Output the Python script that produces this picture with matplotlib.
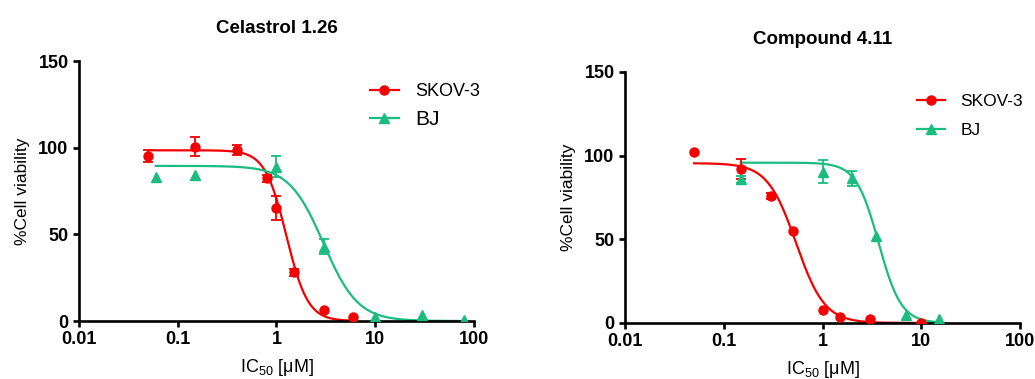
import numpy as np
import matplotlib
matplotlib.use("Agg")
import matplotlib.pyplot as plt

plt.rcParams["font.family"] = ["Liberation Sans", "DejaVu Sans"]
plt.rcParams["mathtext.default"] = "regular"

RED = "#F50000"
GREEN = "#1ABC80"

# ---- Celastrol ----
cel_title = "Celastrol 1.26"
cel_skov_x = [0.05, 0.15, 0.4, 0.8, 1.0, 1.5, 3.0, 6.0]
cel_skov_y = [95.2, 100.6, 98.7, 82.3, 65.4, 28.1, 6.3, 2.1]
cel_skov_err = [3.6, 5.6, 3.0, 2.0, 7.0, 2.0, 0.0, 0.0]
cel_bj_x = [0.06, 0.15, 1.0, 3.0, 10.0, 30.0, 80.0]
cel_bj_y = [83.3, 84.4, 89.0, 42.9, 2.1, 3.5, 0.6]
cel_bj_err = [0.0, 0.0, 6.0, 4.5, 0.0, 0.0, 0.0]
# fitted 4PL parameters: top, bottom, IC50, Hill slope
cel_skov_fit = [98.5, 0.0, 1.26, 4.0]
cel_bj_fit = [89.5, 0.0, 3.0, 2.5]

# ---- Compound 4.11 ----
cmp_title = "Compound 4.11"
cmp_skov_x = [0.05, 0.15, 0.3, 0.5, 1.0, 1.5, 3.0, 10.0]
cmp_skov_y = [102.1, 91.8, 75.9, 55.2, 7.9, 3.4, 2.4, 0.0]
cmp_skov_err = [0.0, 6.0, 2.0, 0.0, 0.0, 0.0, 0.0, 0.0]
cmp_bj_x = [0.15, 1.0, 2.0, 3.5, 7.0, 15.0]
cmp_bj_y = [85.9, 90.4, 86.4, 51.7, 5.0, 2.4]
cmp_bj_err = [2.0, 7.0, 4.5, 0.0, 0.0, 0.0]
cmp_skov_fit = [95.5, 0.0, 0.54, 3.0]
cmp_bj_fit = [95.8, 0.0, 3.7, 3.8]

series_names = ["SKOV-3", "BJ"]
x_ticks = [0.01, 0.1, 1, 10, 100]
x_ticklabels = ["0.01", "0.1", "1", "10", "100"]
y_ticks = [0, 50, 100, 150]


def logistic(x, top, bottom, ic50, hill):
    return bottom + (top - bottom) / (1.0 + (x / ic50) ** hill)


def draw_series(ax, xs, ys, errs, fit, color, marker, ms, label):
    xs = np.asarray(xs); ys = np.asarray(ys); errs = np.asarray(errs)
    xf = np.geomspace(xs.min(), xs.max(), 400)
    ax.plot(xf, logistic(xf, *fit), color=color, lw=1.6, zorder=2)
    m = errs > 0
    ax.errorbar(xs[m], ys[m], yerr=errs[m], fmt="none", ecolor=color,
                elinewidth=1.3, capsize=3.5, capthick=1.3, zorder=3)
    ax.plot(xs, ys, ls="none", marker=marker, ms=ms, color=color, zorder=4)
    # legend proxy: line with marker
    ax.plot([], [], color=color, lw=1.6, marker=marker, ms=ms, label=label)


def style_axes(ax, title, title_pad):
    ax.set_xscale("log")
    ax.set_xlim(0.01, 100)
    ax.set_ylim(0, 150)
    ax.set_xticks(x_ticks)
    ax.set_xticklabels(x_ticklabels)
    ax.xaxis.set_minor_locator(matplotlib.ticker.NullLocator())
    ax.set_yticks(y_ticks)
    for s in ["top", "right"]:
        ax.spines[s].set_visible(False)
    for s in ["left", "bottom"]:
        ax.spines[s].set_linewidth(1.9)
        ax.spines[s].set_clip_on(False)
    ax.tick_params(direction="out", length=4.5, width=1.9, labelsize=13, pad=3)
    for lab in ax.get_xticklabels() + ax.get_yticklabels():
        lab.set_fontweight("bold")
    ax.set_xlabel(r"IC$_{50}$ [$\mu$M]", fontsize=13, labelpad=6)
    ax.set_ylabel("%Cell viability", fontsize=12.5, labelpad=6)
    ax.set_title(title, fontsize=13.5, fontweight="bold", pad=20)


fig = plt.figure(figsize=(10.35, 3.79), dpi=100)
ax1 = fig.add_axes([0.0763, 0.1530, 0.3816, 0.6860])
ax2 = fig.add_axes([0.6039, 0.1478, 0.3816, 0.6623])

draw_series(ax1, cel_skov_x, cel_skov_y, cel_skov_err, cel_skov_fit, RED, "o", 6.5, series_names[0])
draw_series(ax1, cel_bj_x, cel_bj_y, cel_bj_err, cel_bj_fit, GREEN, "^", 6.5, series_names[1])
draw_series(ax2, cmp_skov_x, cmp_skov_y, cmp_skov_err, cmp_skov_fit, RED, "o", 6.5, series_names[0])
draw_series(ax2, cmp_bj_x, cmp_bj_y, cmp_bj_err, cmp_bj_fit, GREEN, "^", 6.5, series_names[1])

style_axes(ax1, cel_title, 20)
style_axes(ax2, cmp_title, 20)

leg1 = ax1.legend(loc="upper left", bbox_to_anchor=(0.737, 0.915), frameon=False,
                  fontsize=13, handlelength=1.6, handletextpad=0.9,
                  labelspacing=0.52, borderpad=0, borderaxespad=0, numpoints=1)
leg1.get_texts()[1].set_fontsize(15)
leg2 = ax2.legend(loc="upper left", bbox_to_anchor=(0.739, 0.914), frameon=False,
                  fontsize=12.5, handlelength=1.6, handletextpad=0.9,
                  labelspacing=0.84, borderpad=0, borderaxespad=0, numpoints=1)

fig.savefig("out.png", dpi=100)
